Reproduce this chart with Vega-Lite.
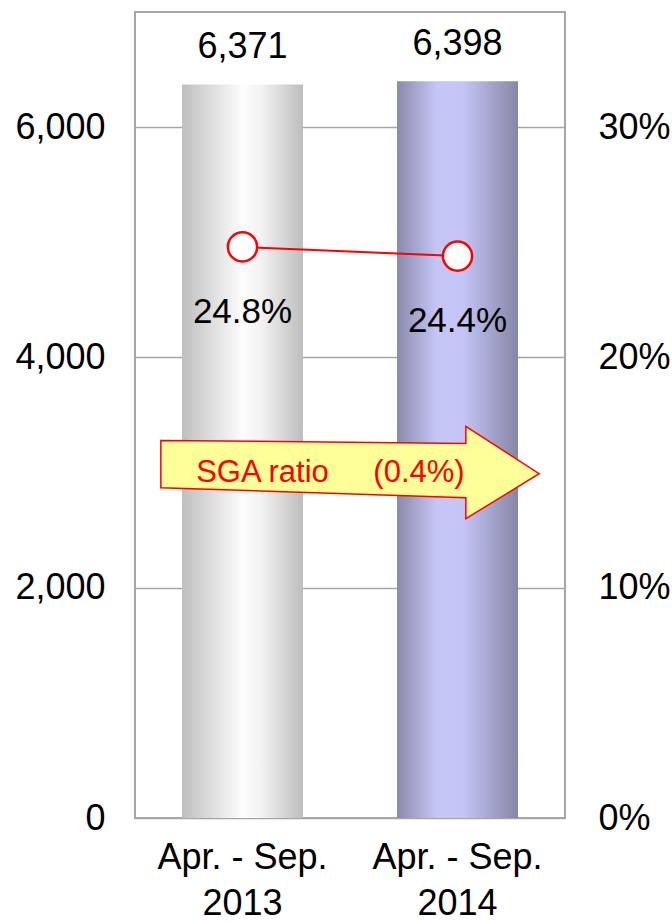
{
  "$schema": "https://vega.github.io/schema/vega-lite/v6.json",
  "width": 430,
  "height": 806,
  "autosize": {"type": "none"},
  "padding": {"left": 135, "top": 12, "right": 107, "bottom": 104},
  "background": "white",
  "config": {
    "font": "Liberation Sans",
    "view": {"stroke": "#a6a6a6", "strokeWidth": 2},
    "axis": {"labelFont": "Liberation Sans", "labelColor": "#000000", "labelFontSize": 36, "ticks": false, "domain": false, "title": null}
  },
  "datasets": {
    "results": [
      {"period": "Apr. - Sep. 2013", "sales": 6371, "ratio": 24.8, "sales_label": "6,371", "ratio_label": "24.8%"},
      {"period": "Apr. - Sep. 2014", "sales": 6398, "ratio": 24.4, "sales_label": "6,398", "ratio_label": "24.4%"}
    ],
    "arrow": [
      {"period": "Apr. - Sep. 2013", "level": 3000}
    ],
    "arrow_text_1": [
      {"period": "Apr. - Sep. 2013", "level": 3000, "text": "SGA ratio"}
    ],
    "arrow_text_2": [
      {"period": "Apr. - Sep. 2014", "level": 3000, "text": "(0.4%)"}
    ]
  },
  "encoding": {
    "x": {
      "field": "period",
      "type": "nominal",
      "sort": null,
      "scale": {"type": "band", "paddingInner": 0, "paddingOuter": 0},
      "axis": {
        "labelAngle": 0,
        "labelPadding": 22,
        "labelLineHeight": 46,
        "labelBaseline": "top",
        "labelExpr": "[slice(datum.value, 0, 11), slice(datum.value, 12)]"
      }
    }
  },
  "layer": [
    {
      "layer": [
        {
          "data": {"name": "results"},
          "mark": {"type": "bar", "size": 121},
          "encoding": {
            "y": {
              "field": "sales",
              "type": "quantitative",
              "scale": {"domain": [0, 7000], "nice": false},
              "axis": {
                "orient": "left",
                "values": [0, 2000, 4000, 6000],
                "labelExpr": "format(datum.value, ',')",
                "grid": true,
                "gridColor": "#a6a6a6",
                "gridWidth": 1.5,
                "labelPadding": 30
              }
            },
            "fill": {
              "condition": {
                "test": "datum.period == 'Apr. - Sep. 2013'",
                "value": {
                  "gradient": "linear", "x1": 0, "y1": 0, "x2": 1, "y2": 0,
                  "stops": [
                    {"offset": 0, "color": "#bfbfbf"},
                    {"offset": 0.5, "color": "#fdfdfd"},
                    {"offset": 0.65, "color": "#f3f3f3"},
                    {"offset": 1, "color": "#bdbdbd"}
                  ]
                }
              },
              "value": {
                "gradient": "linear", "x1": 0, "y1": 0, "x2": 1, "y2": 0,
                "stops": [
                  {"offset": 0, "color": "#8a8aac"},
                  {"offset": 0.33, "color": "#c6c6f6"},
                  {"offset": 0.55, "color": "#c4c4f6"},
                  {"offset": 1, "color": "#8686a6"}
                ]
              }
            }
          }
        },
        {
          "data": {"name": "results"},
          "mark": {"type": "text", "fontSize": 36, "color": "#000000", "baseline": "alphabetic", "dy": -26},
          "encoding": {
            "y": {"field": "sales", "type": "quantitative"},
            "text": {"field": "sales_label"}
          }
        },
        {
          "data": {"name": "arrow"},
          "mark": {
            "type": "point",
            "shape": "M-1,-0.170L0.6125,-0.154L0.6125,-0.244L1,0.006L0.6125,0.244L0.6125,0.133L-1,0.080Z",
            "size": 143111,
            "filled": true,
            "fill": "#ffff99",
            "fillOpacity": 1,
            "stroke": "#ff0000",
            "strokeWidth": 1.5,
            "opacity": 1
          },
          "encoding": {
            "x": {"field": "period", "type": "nominal", "bandPosition": 1},
            "y": {"field": "level", "type": "quantitative"}
          }
        },
        {
          "data": {"name": "arrow_text_1"},
          "mark": {"type": "text", "fontSize": 31, "color": "#ff0000", "baseline": "alphabetic", "dy": 9},
          "encoding": {
            "x": {"field": "period", "type": "nominal", "bandPosition": 0.593},
            "y": {"field": "level", "type": "quantitative"},
            "text": {"field": "text"}
          }
        },
        {
          "data": {"name": "arrow_text_2"},
          "mark": {"type": "text", "fontSize": 31, "color": "#ff0000", "baseline": "alphabetic", "dy": 9},
          "encoding": {
            "x": {"field": "period", "type": "nominal", "bandPosition": 0.321},
            "y": {"field": "level", "type": "quantitative"},
            "text": {"field": "text"}
          }
        }
      ]
    },
    {
      "data": {"name": "results"},
      "encoding": {
        "y": {
          "field": "ratio",
          "type": "quantitative",
          "scale": {"domain": [0, 35], "nice": false},
          "axis": {
            "orient": "right",
            "values": [0, 10, 20, 30],
            "labelExpr": "datum.value + '%'",
            "grid": false,
            "labelPadding": 33
          }
        }
      },
      "layer": [
        {
          "mark": {"type": "line", "color": "#ff0000", "strokeWidth": 2}
        },
        {
          "mark": {"type": "point", "shape": "circle", "size": 855, "filled": true, "fill": "#ffffff", "stroke": "#ff0000", "strokeWidth": 2.5, "opacity": 1}
        },
        {
          "mark": {"type": "text", "fontSize": 35, "color": "#000000", "baseline": "alphabetic", "dy": 76},
          "encoding": {"text": {"field": "ratio_label"}}
        }
      ]
    }
  ],
  "resolve": {"scale": {"y": "independent"}}
}
